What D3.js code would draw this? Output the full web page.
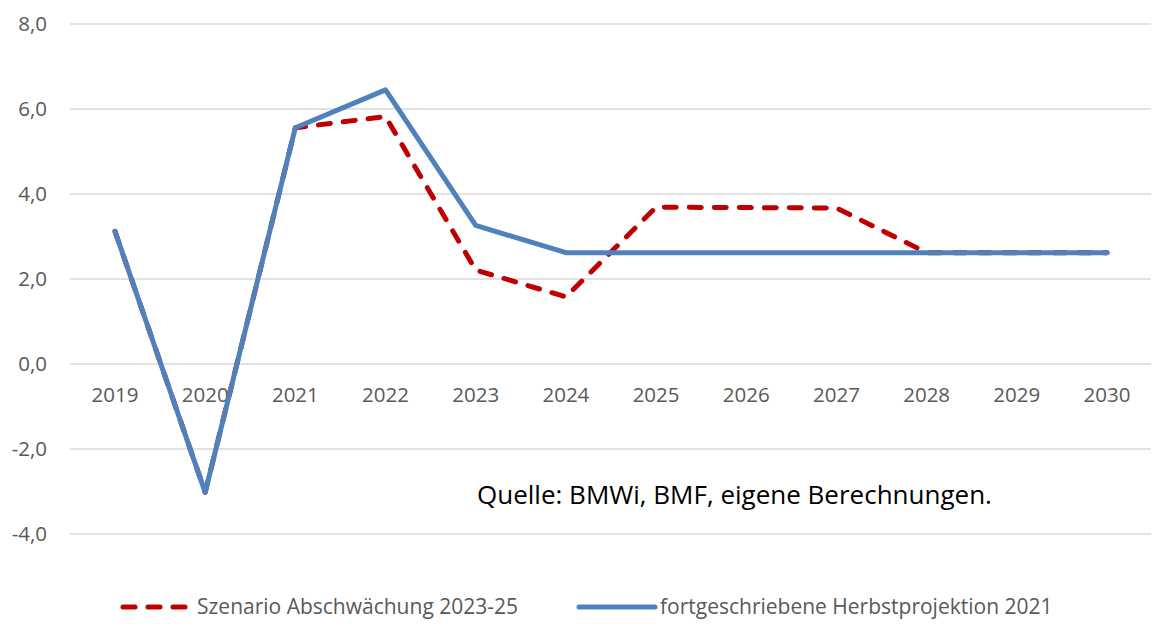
<!DOCTYPE html>
<html>
<head>
<meta charset="utf-8">
<script src="https://cdn.jsdelivr.net/npm/d3@7"></script>
<style>
  body { margin: 0; background: #fff; }
  svg text { font-family: "Open Sans", Lato, sans-serif; }
</style>
</head>
<body>
<div id="chart"></div>
<script>
// data
var years = ["2019","2020","2021","2022","2023","2024","2025","2026","2027","2028","2029","2030"];
var szenario = [3.12, -3.02, 5.56, 5.82, 2.21, 1.58, 3.69, 3.68, 3.67, 2.62, 2.62, 2.62];
var herbst   = [3.12, -3.02, 5.56, 6.45, 3.26, 2.62, 2.62, 2.62, 2.62, 2.62, 2.62, 2.62];
var yTicks = [-4, -2, 0, 2, 4, 6, 8];
var seriesNames = ["Szenario Abschwächung 2023-25", "fortgeschriebene Herbstprojektion 2021"];
var quelle = "Quelle: BMWi, BMF, eigene Berechnungen.";

var width = 1155, height = 624;
var redColor = "#c00000", blueColor = "#4f81bd";

var svg = d3.select("#chart").append("svg")
  .attr("width", width)
  .attr("height", height);

var x = d3.scalePoint().domain(years).range([115, 1107]);
var y = d3.scaleLinear().domain([-4, 8]).range([534, 24]);

// gridlines
svg.append("g").selectAll("line")
  .data(yTicks)
  .enter()
  .append("line")
  .attr("x1", 70).attr("x2", 1151)
  .attr("y1", function(d) { return y(d); })
  .attr("y2", function(d) { return y(d); })
  .style("stroke", "#d9d9d9")
  .style("stroke-width", 1.5);

// y labels
svg.append("g").selectAll("text")
  .data(yTicks)
  .enter()
  .append("text")
  .attr("x", 47)
  .attr("y", function(d) { return y(d); })
  .attr("dy", "0.35em")
  .attr("text-anchor", "end")
  .style("font-size", "20.5px")
  .style("fill", "#595959")
  .text(function(d) { return d3.format(".1f")(d).replace(".", ",").replace("−", "-"); });

// x labels (sit under the zero line)
svg.append("g").selectAll("text")
  .data(years)
  .enter()
  .append("text")
  .attr("x", function(d) { return x(d); })
  .attr("y", y(0) + 31)
  .attr("dy", "0.35em")
  .attr("text-anchor", "middle")
  .style("font-size", "20.5px")
  .style("fill", "#595959")
  .text(function(d) { return d; });

var line = d3.line()
  .x(function(d, i) { return x(years[i]); })
  .y(function(d) { return y(d); });

svg.append("path")
  .datum(szenario)
  .attr("d", line)
  .style("fill", "none")
  .style("stroke", redColor)
  .style("stroke-width", 5)
  .style("stroke-linecap", "round")
  .style("stroke-linejoin", "round")
  .style("stroke-dasharray", "12,13");

svg.append("path")
  .datum(herbst)
  .attr("d", line)
  .style("fill", "none")
  .style("stroke", blueColor)
  .style("stroke-width", 5)
  .style("stroke-linecap", "round")
  .style("stroke-linejoin", "round");

// source note
svg.append("text")
  .attr("x", 477)
  .attr("y", 504)
  .style("font-size", "26px")
  .style("fill", "#000")
  .text(quelle);

// legend
var legY = 607;
svg.append("line")
  .attr("x1", 123).attr("x2", 188)
  .attr("y1", legY).attr("y2", legY)
  .style("stroke", redColor)
  .style("stroke-width", 5)
  .style("stroke-linecap", "round")
  .style("stroke-dasharray", "12,13");
svg.append("text")
  .attr("x", 197).attr("y", legY)
  .attr("dy", "0.35em")
  .style("font-size", "21px")
  .style("fill", "#595959")
  .text(seriesNames[0]);

svg.append("line")
  .attr("x1", 579).attr("x2", 655)
  .attr("y1", legY).attr("y2", legY)
  .style("stroke", blueColor)
  .style("stroke-width", 5)
  .style("stroke-linecap", "round");
svg.append("text")
  .attr("x", 660).attr("y", legY)
  .attr("dy", "0.35em")
  .style("font-size", "21px")
  .style("fill", "#595959")
  .text(seriesNames[1]);
</script>
</body>
</html>
